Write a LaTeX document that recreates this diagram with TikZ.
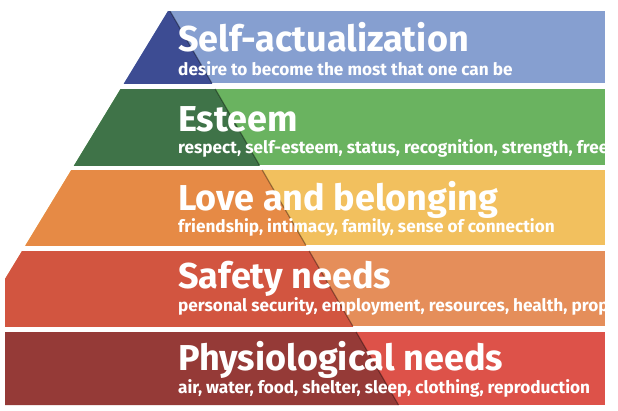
\documentclass[tikz,border=0pt]{standalone}
\usepackage{fontspec}
\setmainfont{Fira Sans}
\definecolor{bL1}{HTML}{869FD0}\definecolor{bD1}{HTML}{3D4C93}
\definecolor{bL2}{HTML}{6AB360}\definecolor{bD2}{HTML}{3F7348}
\definecolor{bL3}{HTML}{F2C05E}\definecolor{bD3}{HTML}{E68A45}
\definecolor{bL4}{HTML}{E58E5A}\definecolor{bD4}{HTML}{D25540}
\definecolor{bL5}{HTML}{DD5249}\definecolor{bD5}{HTML}{953A37}
\begin{document}
\begin{tikzpicture}[x=1pt,y=-1pt,
  ttl/.style={anchor=base west,inner sep=0pt,text=white,font=\fontsize{36}{36}\selectfont\bfseries},
  sub/.style={anchor=base west,inner sep=0pt,text=white,font=\fontsize{17.2}{18}\selectfont\bfseries}]
\useasboundingbox (0,0) rectangle (618,410);
\fill[white] (0,0) rectangle (618,410);
\def\band#1#2#3{%
  \begin{scope}
    \clip (168,11) -- (605,11) -- (605,405) -- (5,405) -- (5,279) -- cycle;
    \fill[bL#1] (0,#2) rectangle (605,#3);
    \fill[bD#1] (170,11) -- (170+0.58*394,405) -- (0,405) -- (0,11) -- cycle;
  \end{scope}}
\begin{scope}
  \clip (0,11) rectangle (605,83);  \band{1}{11}{83}
\end{scope}
\begin{scope}
  \clip (0,89) rectangle (605,165); \band{2}{89}{165}
\end{scope}
\begin{scope}
  \clip (0,170) rectangle (605,245); \band{3}{170}{245}
\end{scope}
\begin{scope}
  \clip (0,251) rectangle (605,326); \band{4}{251}{326}
\end{scope}
\begin{scope}
  \clip (0,332) rectangle (605,405); \band{5}{332}{405}
\end{scope}
\begin{scope}
  \clip (0,11) rectangle (605,405);
  \foreach \a/\b in {11/83,89/165,170/245,251/326,332/405}{
    \draw[black,opacity=0.35,line width=1.2pt] (170+0.58*\a-0.58*11,\a) -- (170+0.58*\b-0.58*11,\b);}
  \node[ttl] (t1) at (178,51) {Self-actualization};
  \node[sub] (s1) at (178,75) {desire to become the most that one can be};
  \node[ttl] (t2) at (178,131) {Esteem};
  \node[sub] (s2) at (178,153) {respect, self-esteem, status, recognition, strength, freedom};
  \node[ttl] (t3) at (178,210) {Love and belonging};
  \node[sub] (s3) at (178,232) {friendship, intimacy, family, sense of connection};
  \node[ttl] (t4) at (178,288) {Safety needs};
  \node[sub] (s4) at (178,311) {personal security, employment, resources, health, property};
  \node[ttl] (t5) at (178,370) {Physiological needs};
  \node[sub] (s5) at (178,393) {air, water, food, shelter, sleep, clothing, reproduction};
\end{scope}
\end{tikzpicture}
\end{document}
